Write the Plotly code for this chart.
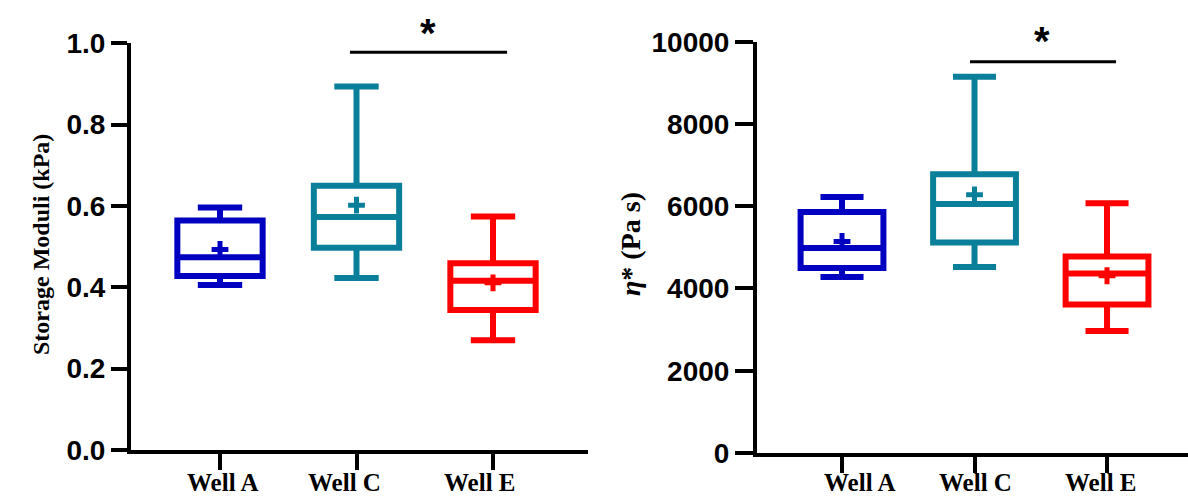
import plotly.graph_objects as go

# ---------------- data ----------------
categories = ["Well A", "Well C", "Well E"]
colors = ["#0000C0", "#0A7F99", "#FF0000"]

storage_lower = [0.406, 0.423, 0.270]
storage_q1 = [0.428, 0.497, 0.344]
storage_median = [0.474, 0.573, 0.416]
storage_q3 = [0.564, 0.650, 0.459]
storage_upper = [0.596, 0.894, 0.574]
storage_mean = [0.493, 0.602, 0.411]

visc_lower = [4277, 4520, 2965]
visc_q1 = [4496, 5115, 3609]
visc_median = [4982, 6051, 4367]
visc_q3 = [5857, 6780, 4780]
visc_upper = [6226, 9145, 6075]
visc_mean = [5145, 6277, 4309]

storage_ticks = [0.0, 0.2, 0.4, 0.6, 0.8, 1.0]
storage_ticktext = ["0.0", "0.2", "0.4", "0.6", "0.8", "1.0"]
visc_ticks = [0, 2000, 4000, 6000, 8000, 10000]
visc_ticktext = ["0", "2000", "4000", "6000", "8000", "10000"]

# significance brackets (Well C vs Well E)
sig_storage = dict(x0=0.952, x1=2.103, y=0.978, star_x=1.524, star_y=1.085)
sig_visc = dict(x0=0.966, x1=2.068, y=9510, star_x=1.507, star_y=10600)

# layout-only: horizontal nudges (px) of the category labels, as drawn
label_shift_left = [3, -12, -13]
label_shift_right = [18, 1, -6]

W, H = 1188, 496
BOX_LW = 6
BOX_W = 0.625

fig = go.Figure()


def add_panel(xa, ya, lower, q1, med, q3, upper, mean):
    for i, cat in enumerate(categories):
        fig.add_trace(go.Box(
            x=[i], q1=[q1[i]], median=[med[i]], q3=[q3[i]],
            lowerfence=[lower[i]], upperfence=[upper[i]],
            width=BOX_W, whiskerwidth=0.52, boxpoints=False,
            line=dict(color=colors[i], width=BOX_LW),
            fillcolor="rgba(255,255,255,0)",
            xaxis=xa, yaxis=ya, showlegend=False, hoverinfo="skip",
        ))
    fig.add_trace(go.Scatter(
        x=list(range(len(categories))), y=mean, mode="markers",
        marker=dict(symbol="cross-thin", size=12,
                    line=dict(color=colors, width=5), color=colors),
        xaxis=xa, yaxis=ya, showlegend=False, hoverinfo="skip",
    ))


add_panel("x", "y", storage_lower, storage_q1, storage_median,
          storage_q3, storage_upper, storage_mean)
add_panel("x2", "y2", visc_lower, visc_q1, visc_median,
          visc_q3, visc_upper, visc_mean)

num_font = dict(family="Liberation Sans, Arial, sans-serif", size=28,
                color="black", weight="bold")
cat_font = dict(family="Liberation Serif, Times New Roman, serif", size=25,
                color="black", weight="bold")

common_x = dict(showline=True, linewidth=4, linecolor="black",
                ticks="outside", ticklen=16, tickwidth=4, tickcolor="black",
                showgrid=False, zeroline=False, showticklabels=False,
                tickmode="array", tickvals=list(range(len(categories))),
                automargin=False)
common_y = dict(showline=True, linewidth=4, linecolor="black",
                ticks="outside", tickwidth=4, tickcolor="black",
                showgrid=False, zeroline=False, tickfont=num_font,
                tickmode="array", ticklabelstandoff=0, automargin=False)

fig.update_layout(
    width=W, height=H,
    margin=dict(l=0, r=0, t=0, b=0, autoexpand=False),
    paper_bgcolor="white", plot_bgcolor="white",
    showlegend=False, boxmode="overlay",
    xaxis=dict(domain=[131 / W, 588 / W], range=[-0.652, 2.696],
               anchor="y", **common_x),
    yaxis=dict(domain=[(H - 450) / H, (H - 43.3) / H], range=[0, 1.0],
               anchor="x", ticklen=16, tickvals=storage_ticks,
               ticktext=storage_ticktext, **common_y),
    xaxis2=dict(domain=[757 / W, 1.0], range=[-0.6415, 2.611],
                anchor="y2", **common_x),
    yaxis2=dict(domain=[(H - 453) / H, (H - 41.7) / H], range=[0, 10000],
                anchor="x2", ticklen=18, tickvals=visc_ticks,
                ticktext=visc_ticktext, **common_y),
)

# category labels
for xr, shifts in [("x", label_shift_left), ("x2", label_shift_right)]:
    for i, cat in enumerate(categories):
        fig.add_annotation(xref=xr, yref="paper", x=i, y=(H - 482) / H,
                           yanchor="middle", xanchor="center",
                           xshift=shifts[i], text=cat, showarrow=False,
                           font=cat_font)

# significance lines and stars
for sig, xr, yr, ymax in [(sig_storage, "x", "y", 1.0),
                          (sig_visc, "x2", "y2", 10000)]:
    fig.add_shape(type="line", xref=xr, yref=yr,
                  x0=sig["x0"], x1=sig["x1"], y0=sig["y"], y1=sig["y"],
                  line=dict(color="black", width=3))
    fig.add_annotation(xref=xr, yref=yr + " domain", x=sig["star_x"],
                       y=sig["star_y"] / ymax,
                       text="*", showarrow=False,
                       font=dict(family="Liberation Sans, Arial, sans-serif",
                                 size=40, color="black", weight="bold"))

# axis titles
fig.add_annotation(xref="paper", yref="paper", x=26 / W, y=(H - 245) / H,
                   text="Storage Moduli (kPa)", textangle=-90, showarrow=False,
                   font=dict(family="Liberation Serif, Times New Roman, serif",
                             size=24, color="black", weight="bold"))
fig.add_annotation(xref="paper", yref="paper", x=630 / W, y=(H - 244) / H,
                   text="<i>η</i>* (Pa s)", textangle=-90, showarrow=False,
                   font=dict(family="Liberation Serif, Times New Roman, serif",
                             size=28, color="black", weight="bold"))

fig.write_html("out.html")
